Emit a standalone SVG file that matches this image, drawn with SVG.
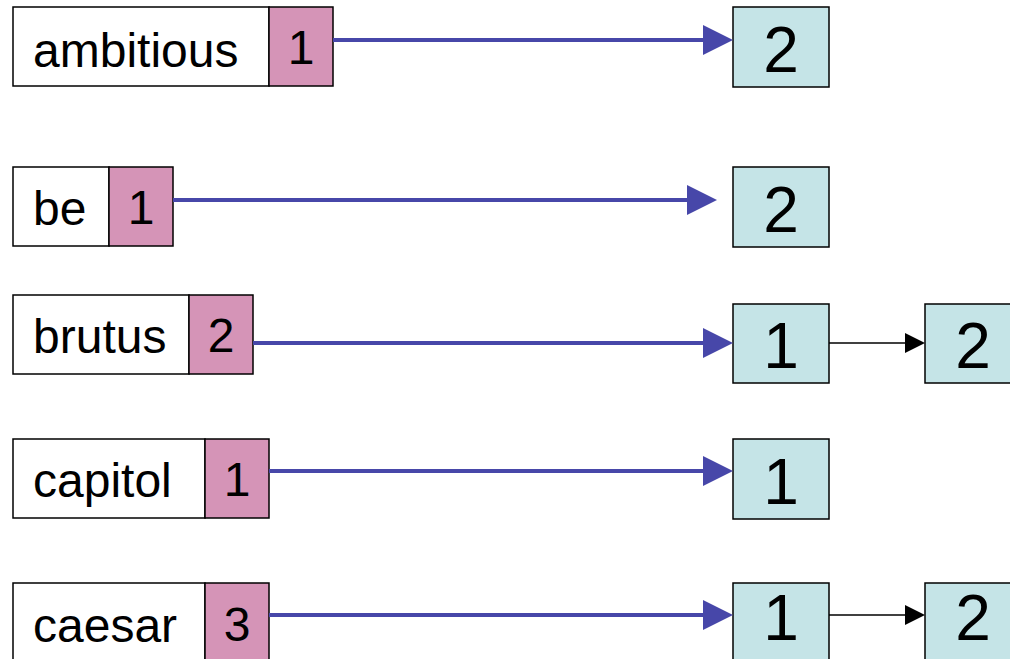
<svg xmlns="http://www.w3.org/2000/svg" width="1010" height="659" viewBox="0 0 1010 659">
  <style>
    .term { fill: #ffffff; stroke: #000; stroke-width: 1.5; }
    .freq { fill: #D594B7; stroke: #000; stroke-width: 1.5; }
    .post { fill: #C5E4E7; stroke: #000; stroke-width: 1.5; }
    .t { font-family: "Liberation Sans", Arial, sans-serif; font-size: 48px; fill: #000; }
    .n { font-family: "Liberation Sans", Arial, sans-serif; font-size: 48px; fill: #000; text-anchor: middle; }
    .d { font-family: "Liberation Sans", Arial, sans-serif; font-size: 64px; fill: #000; text-anchor: middle; }
    .ptr { stroke: #4747A9; stroke-width: 4; fill: none; }
    .ptrhead { fill: #4747A9; }
    .nxt { stroke: #000; stroke-width: 1.5; fill: none; }
  </style>

  <!-- dictionary entries: term + document frequency -->
  <g id="term-ambitious">
    <rect class="term" x="13" y="7" width="256" height="79"/>
    <rect class="freq" x="269" y="7" width="64" height="79"/>
    <text class="t" x="33" y="67">ambitious</text>
    <text class="n" x="301" y="64">1</text>
  </g>
  <g id="term-be">
    <rect class="term" x="13" y="167" width="96" height="79"/>
    <rect class="freq" x="109" y="167" width="64" height="79"/>
    <text class="t" x="33" y="225">be</text>
    <text class="n" x="141" y="224">1</text>
  </g>
  <g id="term-brutus">
    <rect class="term" x="13" y="295" width="176" height="79"/>
    <rect class="freq" x="189" y="295" width="64" height="79"/>
    <text class="t" x="33" y="353">brutus</text>
    <text class="n" x="221" y="352">2</text>
  </g>
  <g id="term-capitol">
    <rect class="term" x="13" y="439" width="192" height="79"/>
    <rect class="freq" x="205" y="439" width="64" height="79"/>
    <text class="t" x="33" y="497">capitol</text>
    <text class="n" x="237" y="496">1</text>
  </g>
  <g id="term-caesar">
    <rect class="term" x="13" y="583" width="192" height="90"/>
    <rect class="freq" x="205" y="583" width="64" height="90"/>
    <text class="t" x="33" y="642">caesar</text>
    <text class="n" x="237" y="641">3</text>
  </g>

  <!-- postings -->
  <g id="post-ambitious-1">
    <rect class="post" x="733" y="7" width="96" height="80"/>
    <text class="d" x="781" y="72">2</text>
  </g>
  <g id="post-be-1">
    <rect class="post" x="733" y="167" width="96" height="80"/>
    <text class="d" x="781" y="232">2</text>
  </g>
  <g id="post-brutus-1">
    <rect class="post" x="733" y="304" width="96" height="79"/>
    <text class="d" x="781" y="368">1</text>
  </g>
  <g id="post-brutus-2">
    <rect class="post" x="925" y="304" width="96" height="79"/>
    <text class="d" x="973" y="368">2</text>
  </g>
  <g id="post-capitol-1">
    <rect class="post" x="733" y="439" width="96" height="80"/>
    <text class="d" x="781" y="504">1</text>
  </g>
  <g id="post-caesar-1">
    <rect class="post" x="733" y="583" width="96" height="90"/>
    <text class="d" x="781" y="640">1</text>
  </g>
  <g id="post-caesar-2">
    <rect class="post" x="925" y="583" width="96" height="90"/>
    <text class="d" x="973" y="640">2</text>
  </g>

  <!-- connectors -->
  <g id="connectors">
    <line class="ptr" x1="333" y1="40" x2="705" y2="40"/>
    <polygon class="ptrhead" points="703,25 733,40 703,55"/>
    <line class="ptr" x1="173" y1="200" x2="689" y2="200"/>
    <polygon class="ptrhead" points="687,185 717,200 687,215"/>
    <line class="ptr" x1="253" y1="343" x2="705" y2="343"/>
    <polygon class="ptrhead" points="703,328 733,343 703,358"/>
    <line class="ptr" x1="269" y1="471" x2="705" y2="471"/>
    <polygon class="ptrhead" points="703,456 733,471 703,486"/>
    <line class="ptr" x1="269" y1="615" x2="705" y2="615"/>
    <polygon class="ptrhead" points="703,600 733,615 703,630"/>

    <line class="nxt" x1="829" y1="343" x2="907" y2="343"/>
    <polygon points="905,333 925,343 905,353" fill="#000"/>
    <line class="nxt" x1="829" y1="615" x2="907" y2="615"/>
    <polygon points="905,605 925,615 905,625" fill="#000"/>
  </g>
</svg>
